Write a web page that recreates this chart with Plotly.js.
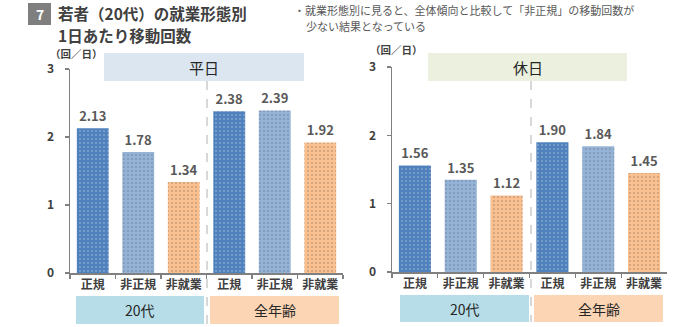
<!DOCTYPE html>
<html><head><meta charset="utf-8">
<script src="https://cdn.plot.ly/plotly-3.0.1.min.js"></script>
<style>html,body{margin:0;padding:0;background:#fff}#chart{width:700px;height:327px}</style>
</head><body><div id="chart"></div>
<script>
const employment = ['正規', '非正規', '非就業'];
const groups = ['20代', '全年齢'];
const weekdayValues = [2.13, 1.78, 1.34, 2.38, 2.39, 1.92];
const holidayValues = [1.56, 1.35, 1.12, 1.90, 1.84, 1.45];
const panelTitles = ['平日', '休日'];
const yTickValues = [0, 1, 2, 3];
const titleLines = ['若者（20代）の就業形態別', '1日あたり移動回数'];
const noteLines = ['・就業形態別に見ると、全体傾向と比較して「非正規」の移動回数が', '少ない結果となっている'];
const unitLabel = '（回／日）';
const badgeText = '7';

const W = 700, H = 327;
const px = v => v / W;
const py = v => 1 - v / H;
const FONT = '"Noto Sans CJK JP", "Noto Sans", sans-serif';
const barColors = ['#4F81BD', '#95B3D7', '#FAC090'];
const dotColors = ['#41709F', '#8CAACF', '#F2B383'];

const keys = groups.flatMap(g => employment.map(e => g + '|' + e));
const tickText = groups.flatMap(() => employment);
const colors = groups.flatMap(() => barColors);
const dots = groups.flatMap(() => dotColors);

function barTrace(vals, xa, ya) {
  return {
    type: 'bar', x: keys, y: vals, xaxis: xa, yaxis: ya, width: 0.7,
    marker: { color: colors, line: { width: 0 },
      pattern: { shape: '.', fgcolor: dots, bgcolor: colors, size: 4, solidity: 0.12, fillmode: 'overlay' } },
    texttemplate: '%{y:.2f}', textposition: 'outside', cliponaxis: false,
    textfont: { family: FONT, size: 13, color: '#595959', weight: 'bold' },
    hoverinfo: 'skip', showlegend: false
  };
}

function xAxis(domain, anchor) {
  return {
    domain: domain, anchor: anchor, type: 'category', range: [-0.5, 5.5],
    tickvals: keys, ticktext: tickText, tickson: 'boundaries',
    ticks: 'outside', ticklen: 4, tickwidth: 1.2, tickcolor: '#808080',
    showline: true, linecolor: '#808080', linewidth: 1.5, showgrid: false, zeroline: false,
    tickfont: { family: FONT, size: 12, color: '#404040', weight: 'bold' }, fixedrange: true
  };
}
function yAxis(domain, anchor) {
  return {
    domain: domain, anchor: anchor, range: [0, 3], tickvals: yTickValues,
    ticks: 'outside', ticklen: 4, tickwidth: 1.2, tickcolor: '#808080',
    showline: true, linecolor: '#808080', linewidth: 1.5, showgrid: false, zeroline: false,
    ticklabelstandoff: 8,
    tickfont: { family: FONT, size: 12, color: '#404040', weight: 'bold' }, fixedrange: true
  };
}

const shapes = [];
const annotations = [];
function rect(x0, x1, y0, y1, fill) {
  shapes.push({ type: 'rect', xref: 'paper', yref: 'paper', x0: px(x0), x1: px(x1), y0: py(y1), y1: py(y0),
    fillcolor: fill, line: { width: 0 }, layer: 'below' });
}
function text(t, x, y, size, opts) {
  annotations.push(Object.assign({ text: t, xref: 'paper', yref: 'paper', x: px(x), y: py(y),
    showarrow: false, xanchor: 'center', yanchor: 'middle',
    font: { family: FONT, size: size, color: '#262626' } }, opts || {}));
}

// panel geometry (pixels)
const panels = [
  { header: [104, 304], headerFill: '#DCE6F1', groupBoxes: [[76, 204], [210, 339]], divider: 207, dy: [81, 325], box: [296, 324], unitX: 76, unitY: 53 },
  { header: [428, 627], headerFill: '#EBF1DE', groupBoxes: [[400, 529], [534, 663]], divider: 531, dy: [81, 322], box: [295, 322], unitX: 396, unitY: 49 }
];
const groupFills = ['#B7DEE8', '#FCD5B4'];

panels.forEach((p, i) => {
  rect(p.header[0], p.header[1], 53, 81, p.headerFill);
  text(panelTitles[i], (p.header[0] + p.header[1]) / 2, 67, 15);
  p.groupBoxes.forEach((b, j) => {
    rect(b[0], b[1], p.box[0], p.box[1], groupFills[j]);
    text(groups[j], (b[0] + b[1]) / 2, (p.box[0] + p.box[1]) / 2, 14);
  });
  shapes.push({ type: 'line', xref: 'paper', yref: 'paper', x0: px(p.divider), x1: px(p.divider),
    y0: py(p.dy[0]), y1: py(p.dy[1]), line: { color: '#BFBFBF', width: 1.2, dash: 'dash' } });
  text(unitLabel, p.unitX, p.unitY, 10.5, { font: { family: FONT, size: 10.5, color: '#404040', weight: 'bold' } });
});

// title badge
shapes.push({ type: 'rect', xref: 'paper', yref: 'paper', x0: px(28), x1: px(51), y0: py(25), y1: py(3),
  fillcolor: '#7F7F7F', line: { width: 0 } });
text(badgeText, 39.5, 14, 14, { font: { family: FONT, size: 14, color: '#FFFFFF', weight: 'bold' } });
const titleFont = { family: FONT, size: 15.5, color: '#404040', weight: 'bold' };
text(titleLines[0], 56, 13, 15.5, { xanchor: 'left', font: titleFont });
text(titleLines[1], 56, 35, 15.5, { xanchor: 'left', font: titleFont });
const noteFont = { family: FONT, size: 11, color: '#595959' };
text(noteLines[0], 292, 10, 11, { xanchor: 'left', font: noteFont });
text(noteLines[1], 304, 26, 11, { xanchor: 'left', font: noteFont });

const data = [barTrace(weekdayValues, 'x', 'y'), barTrace(holidayValues, 'x2', 'y2')];
const layout = {
  width: W, height: H, margin: { l: 0, r: 0, t: 0, b: 0 },
  paper_bgcolor: '#FFFFFF', plot_bgcolor: 'rgba(0,0,0,0)',
  font: { family: FONT },
  xaxis: xAxis([px(70), px(343)], 'y'),
  yaxis: yAxis([py(273), py(69)], 'x'),
  xaxis2: xAxis([px(392), px(667)], 'y2'),
  yaxis2: yAxis([py(272), py(67)], 'x2'),
  bargap: 0.3,
  shapes: shapes, annotations: annotations
};
Plotly.newPlot('chart', data, layout, { displayModeBar: false, staticPlot: true });
</script></body></html>
